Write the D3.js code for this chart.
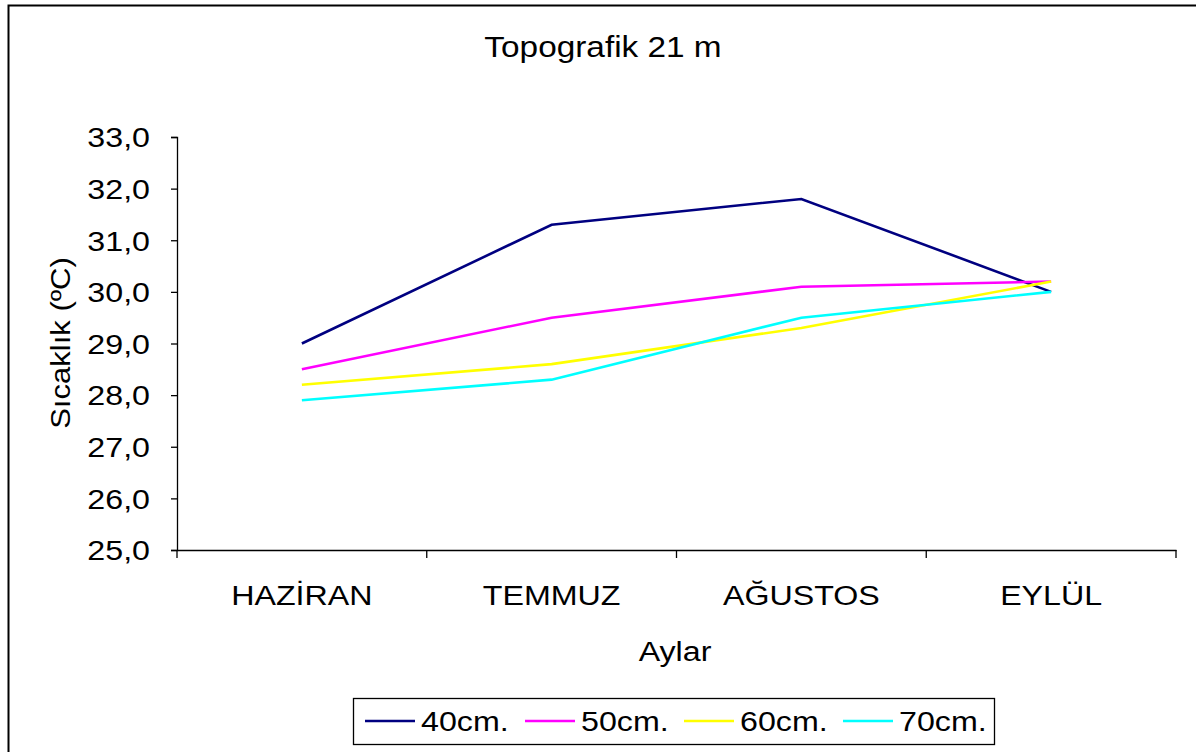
<!DOCTYPE html>
<html>
<head>
<meta charset="utf-8">
<script src="https://cdn.jsdelivr.net/npm/d3@7"></script>
<style>
  body { margin: 0; background: #fff; }
  text { font-family: "Liberation Sans", Arial, sans-serif; fill: #000; }
</style>
</head>
<body>
<div id="chart"></div>
<script>
var largeur = 1196;
var hauteur = 752;

// donnees
var aylar = ["HAZİRAN", "TEMMUZ", "AĞUSTOS", "EYLÜL"];
var seriler = ["40cm.", "50cm.", "60cm.", "70cm."];
var d40 = [29.0, 31.3, 31.8, 30.0];
var d50 = [28.5, 29.5, 30.1, 30.2];
var d60 = [28.2, 28.6, 29.3, 30.2];
var d70 = [27.9, 28.3, 29.5, 30.0];
var yTicks = [25, 26, 27, 28, 29, 30, 31, 32, 33];

var renkler = ["#000080", "#ff00ff", "#ffff00", "#00ffff"];
var degerler = [d40, d50, d60, d70];

// le texte de l'original est un peu etire en largeur
var etire = "scale(1.15,1)";

var marge = {haut: 137, droite: 20, bas: 202, gauche: 177},
    width = 1176 - marge.gauche,
    height = 550 - marge.haut;

var svg0 = d3.select("#chart").append("svg")
    .attr("width", largeur)
    .attr("height", hauteur);

// cadre exterieur
svg0.append("rect")
    .attr("x", 8.5).attr("y", 5.5)
    .attr("width", 1400).attr("height", 1000)
    .attr("fill", "none").attr("stroke", "#000").attr("stroke-width", 2);

svg0.append("text")
    .attr("transform", "translate(603,57) " + etire)
    .attr("text-anchor", "middle")
    .attr("font-size", "29px")
    .text("Topografik 21 m");

var svg = svg0.append("g")
    .attr("transform", "translate(" + marge.gauche + "," + marge.haut + ")");

var x = d3.scaleBand().domain(aylar).range([0, width]);
var y = d3.scaleLinear().domain([25, 33]).range([height, 0]);

// axe Y
var yAxis = svg.append("g")
    .call(d3.axisLeft(y).tickValues(yTicks).tickSize(6).tickPadding(17.5)
        .tickFormat(function(d) { return d3.format(".1f")(d).replace(".", ","); }));
yAxis.selectAll("text").attr("font-size", "28px").attr("dy", "0.35em")
    .attr("transform", etire)
    .style("font-family", "Liberation Sans, Arial, sans-serif");
yAxis.select(".domain").attr("stroke-width", 1.3);
yAxis.selectAll(".tick line").attr("stroke-width", 1.3);

// axe X
var xAxis = svg.append("g")
    .attr("transform", "translate(0," + height + ")")
    .call(d3.axisBottom(x).tickSize(0).tickPadding(35));
xAxis.selectAll("text").attr("font-size", "28px")
    .attr("transform", etire)
    .style("font-family", "Liberation Sans, Arial, sans-serif");
xAxis.select(".domain").attr("stroke-width", 1.3);

// graduations entre categories
svg.append("g").selectAll("line")
    .data(d3.range(aylar.length + 1))
    .enter().append("line")
        .attr("x1", function(i) { return i * x.step(); })
        .attr("x2", function(i) { return i * x.step(); })
        .attr("y1", height).attr("y2", height + 8)
        .attr("stroke", "#000").attr("stroke-width", 1.3);

// courbes
var ligne = d3.line()
    .x(function(d, i) { return x(aylar[i]) + x.bandwidth() / 2; })
    .y(function(d) { return y(d); });

svg.append("g").selectAll("path")
    .data(degerler)
    .enter().append("path")
        .attr("d", ligne)
        .attr("fill", "none")
        .attr("stroke", function(d, i) { return renkler[i]; })
        .attr("stroke-width", 2.6);

// titres des axes
svg0.append("text")
    .attr("transform", "translate(70,343) rotate(-90) " + etire)
    .attr("text-anchor", "middle")
    .attr("font-size", "27px")
    .text("Sıcaklık (ºC)");

svg0.append("text")
    .attr("transform", "translate(675,661) " + etire)
    .attr("text-anchor", "middle")
    .attr("font-size", "28px")
    .text("Aylar");

// legende
var leg = svg0.append("g");
leg.append("rect")
    .attr("x", 353.5).attr("y", 698.5)
    .attr("width", 641).attr("height", 46)
    .attr("fill", "#fff").attr("stroke", "#000").attr("stroke-width", 1.3);

var legX = [365, 525, 684, 843];
var item = leg.selectAll("g.item")
    .data(seriler)
    .enter().append("g")
        .attr("transform", function(d, i) { return "translate(" + legX[i] + ",721)"; });
item.append("line")
    .attr("x1", 0).attr("x2", 50)
    .attr("stroke", function(d, i) { return renkler[i]; })
    .attr("stroke-width", 2.6);
item.append("text")
    .attr("transform", "translate(56,0) " + etire)
    .attr("dy", "0.36em")
    .attr("font-size", "28px")
    .text(function(d) { return d; });
</script>
</body>
</html>
